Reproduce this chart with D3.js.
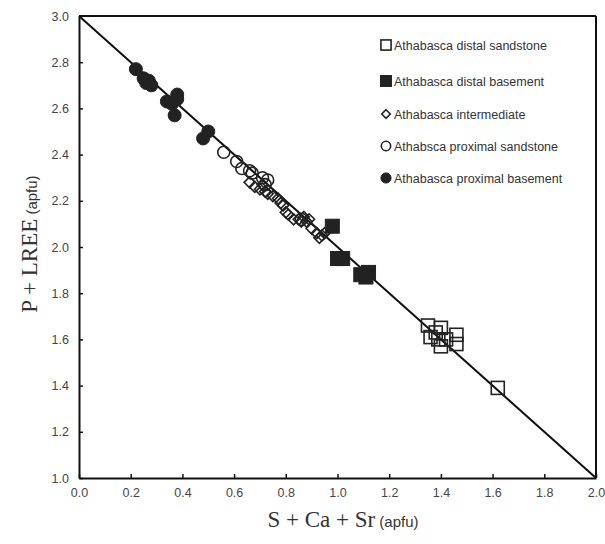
<!DOCTYPE html>
<html>
<head>
<meta charset="utf-8">
<script src="https://cdn.jsdelivr.net/npm/d3@7"></script>
<style>
  body { margin: 0; background: #fff; }
  text { font-family: "Liberation Sans", Arial, sans-serif; }
</style>
</head>
<body>
<svg id="main" width="605" height="544"></svg>
<script>
// data
var distalSandstone = [
  [1.35, 1.66], [1.38, 1.63], [1.40, 1.65], [1.46, 1.62], [1.36, 1.61],
  [1.40, 1.57], [1.46, 1.58], [1.42, 1.60], [1.39, 1.60], [1.62, 1.39]
];
var distalBasement = [
  [0.98, 2.09], [1.00, 1.95], [1.02, 1.95], [1.09, 1.88], [1.12, 1.89], [1.11, 1.87]
];
var intermediate = [
  [0.66, 2.28], [0.68, 2.26], [0.70, 2.25], [0.71, 2.27], [0.72, 2.24], [0.73, 2.23],
  [0.75, 2.22], [0.77, 2.21], [0.79, 2.18], [0.80, 2.15], [0.81, 2.14], [0.83, 2.12],
  [0.85, 2.12], [0.86, 2.11], [0.87, 2.13], [0.88, 2.11], [0.90, 2.08], [0.92, 2.06],
  [0.93, 2.04], [0.94, 2.05], [0.95, 2.06], [0.89, 2.12], [0.78, 2.19]
];
var proximalSandstone = [
  [0.56, 2.41], [0.61, 2.37], [0.63, 2.34], [0.66, 2.33], [0.67, 2.32],
  [0.71, 2.30], [0.72, 2.27], [0.73, 2.29], [0.86, 2.12]
];
var proximalBasement = [
  [0.22, 2.77], [0.25, 2.73], [0.26, 2.71], [0.27, 2.72], [0.28, 2.70],
  [0.34, 2.63], [0.36, 2.62], [0.38, 2.66], [0.38, 2.64], [0.37, 2.57],
  [0.48, 2.47], [0.50, 2.50]
];
var legendLabels = [
  "Athabasca distal sandstone",
  "Athabasca distal basement",
  "Athabasca intermediate",
  "Athabsca proximal sandstone",
  "Athabasca proximal basement"
];
var xTicks = [0.0, 0.2, 0.4, 0.6, 0.8, 1.0, 1.2, 1.4, 1.6, 1.8, 2.0];
var yTicks = [1.0, 1.2, 1.4, 1.6, 1.8, 2.0, 2.2, 2.4, 2.6, 2.8, 3.0];
var trendLine = [[0, 3], [2, 1]];

var svg = d3.select("#main");
var pLeft = 79, pRight = 596, pTop = 16, pBottom = 478;
var x = d3.scaleLinear().domain([0, 2]).range([pLeft, pRight]);
var y = d3.scaleLinear().domain([1, 3]).range([pBottom, pTop]);

function styleAxis(g) {
  g.select(".domain").attr("stroke", "#111").attr("stroke-width", 2);
  g.selectAll(".tick line").attr("stroke", "#111").attr("stroke-width", 1.5);
  g.selectAll(".tick text").attr("fill", "#444").attr("font-size", 12.5)
    .attr("font-family", "Liberation Sans, Arial, sans-serif");
}

// axes with inside ticks
svg.append("g")
  .attr("transform", "translate(0," + pBottom + ")")
  .call(d3.axisBottom(x).tickValues(xTicks).tickSizeInner(-4).tickSizeOuter(0).tickPadding(10).tickFormat(d3.format(".1f")))
  .call(styleAxis);
svg.append("g")
  .attr("transform", "translate(" + pLeft + ",0)")
  .call(d3.axisLeft(y).tickValues(yTicks).tickSizeInner(-4).tickSizeOuter(0).tickPadding(10).tickFormat(d3.format(".1f")))
  .call(styleAxis);
// top and right frame
svg.append("line").attr("x1", pLeft).attr("x2", pRight).attr("y1", pTop).attr("y2", pTop)
  .attr("stroke", "#111").attr("stroke-width", 2);
svg.append("line").attr("x1", pRight).attr("x2", pRight).attr("y1", pTop).attr("y2", pBottom)
  .attr("stroke", "#111").attr("stroke-width", 2);

// 1:1 substitution line
svg.append("path")
  .attr("d", d3.line().x(function(d) { return x(d[0]); }).y(function(d) { return y(d[1]); })(trendLine))
  .attr("stroke", "#111").attr("stroke-width", 2).attr("fill", "none");

var ink = "#222";
function drawMarker(g, kind, cx, cy, scale) {
  var s = scale || 1;
  if (kind == "sq") {
    var h = 6.5 * s;
    g.append("rect").attr("x", cx - h).attr("y", cy - h).attr("width", 2 * h).attr("height", 2 * h)
      .attr("fill", "none").attr("stroke", ink).attr("stroke-width", 1.6);
  } else if (kind == "sqf") {
    var h2 = 7 * s;
    g.append("rect").attr("x", cx - h2).attr("y", cy - h2).attr("width", 2 * h2).attr("height", 2 * h2)
      .attr("fill", ink).attr("stroke", ink).attr("stroke-width", 1);
  } else if (kind == "dia") {
    var r = 5.5 * s;
    g.append("path").attr("d", "M" + cx + "," + (cy - r) + "L" + (cx + r) + "," + cy + "L" + cx + "," + (cy + r) + "L" + (cx - r) + "," + cy + "Z")
      .attr("fill", "none").attr("stroke", ink).attr("stroke-width", 1.6);
  } else if (kind == "circ") {
    g.append("circle").attr("cx", cx).attr("cy", cy).attr("r", 6 * s)
      .attr("fill", "none").attr("stroke", ink).attr("stroke-width", 1.6);
  } else {
    g.append("circle").attr("cx", cx).attr("cy", cy).attr("r", 6.5 * s)
      .attr("fill", ink).attr("stroke", ink).attr("stroke-width", 1);
  }
}

var series = [
  [distalSandstone, "sq"],
  [distalBasement, "sqf"],
  [intermediate, "dia"],
  [proximalSandstone, "circ"],
  [proximalBasement, "circf"]
];
var pts = svg.append("g");
series.forEach(function(s) {
  s[0].forEach(function(d) { drawMarker(pts, s[1], x(d[0]), y(d[1])); });
});

// legend
var legendY = [45, 81, 114, 146, 178];
var lg = svg.append("g");
legendLabels.forEach(function(lab, i) {
  drawMarker(lg, series[i][1], 386, legendY[i], 0.78);
  lg.append("text").attr("x", 394).attr("y", legendY[i] + 4.5)
    .attr("font-size", 12.5).attr("fill", "#333").text(lab);
});

// axis titles
var xt = svg.append("text").attr("x", 343).attr("y", 527).attr("text-anchor", "middle").attr("fill", "#333");
xt.append("tspan").attr("font-family", "Liberation Serif, Times New Roman, serif").attr("font-size", 23).text("S + Ca + Sr");
xt.append("tspan").attr("font-size", 15).text(" (apfu)");

var yt = svg.append("text").attr("transform", "translate(37,244) rotate(-90)").attr("text-anchor", "middle").attr("fill", "#333");
yt.append("tspan").attr("font-family", "Liberation Serif, Times New Roman, serif").attr("font-size", 23).text("P + LREE");
yt.append("tspan").attr("font-size", 15).text(" (apfu)");
</script>
</body>
</html>
